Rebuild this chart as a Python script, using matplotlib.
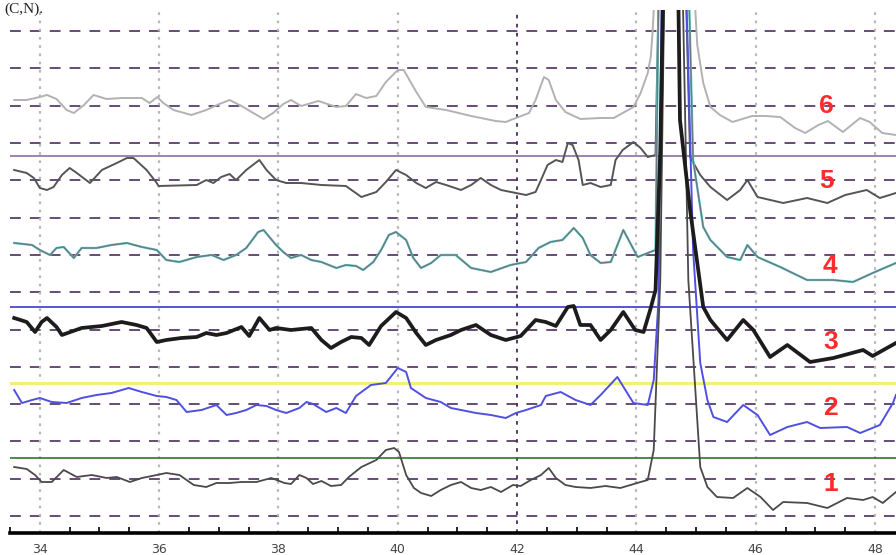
import matplotlib
matplotlib.use("Agg")
import matplotlib.pyplot as plt

# 2-theta (deg) and stacked intensity (a.u.), bottom trace = 1
x1 = [33.57, 33.78, 33.92, 34.03, 34.20, 34.40, 34.62, 34.87, 35.12, 35.29, 35.51, 35.71, 35.96, 36.12,
      36.34, 36.58, 36.79, 36.96, 37.18, 37.38, 37.63, 37.88, 38.10, 38.21, 38.35, 38.47, 38.58, 38.72,
      38.88, 39.05, 39.18, 39.39, 39.64, 39.80, 39.94, 40.02, 40.14, 40.27, 40.39, 40.56, 40.72, 40.89,
      41.06, 41.23, 41.39, 41.56, 41.73, 41.93, 42.06, 42.23, 42.40, 42.53, 42.65, 42.81, 42.98, 43.23,
      43.48, 43.73, 44.07, 44.19, 44.29, 44.40, 44.50, 44.73, 44.87, 45.07, 45.19, 45.35, 45.62, 45.86,
      46.08, 46.29, 46.46, 46.86, 47.20, 47.53, 47.80, 47.96, 48.13, 48.35]
y1 = [66, 64, 58, 51, 51, 63, 56, 58, 55, 56, 51, 55, 58, 60,
      58, 48, 46, 50, 50, 51, 51, 55, 50, 49, 58, 55, 49, 52,
      47, 48, 56, 66, 73, 83, 85, 81, 58, 45, 40, 37, 43, 48,
      51, 45, 43, 46, 41, 48, 47, 53, 58, 65, 55, 48, 46, 45,
      47, 45, 51, 53, 83, 253, 683, 683, 253, 66, 46, 36, 35, 45,
      36, 23, 31, 30, 25, 35, 33, 36, 30, 41]

x2 = [33.57, 33.70, 33.87, 34.00, 34.20, 34.45, 34.70, 34.95, 35.20, 35.49, 35.71, 35.96, 36.12, 36.29,
      36.46, 36.71, 36.96, 37.13, 37.29, 37.46, 37.63, 37.80, 37.96, 38.13, 38.35, 38.47, 38.58, 38.80,
      38.97, 39.13, 39.30, 39.55, 39.80, 40.00, 40.14, 40.22, 40.47, 40.72, 40.89, 41.06, 41.31, 41.56,
      41.81, 41.98, 42.15, 42.40, 42.48, 42.73, 42.98, 43.23, 43.40, 43.68, 43.95, 44.19, 44.29, 44.37,
      44.45, 44.77, 44.95, 45.07, 45.19, 45.29, 45.52, 45.79, 46.03, 46.24, 46.53, 46.86, 47.08, 47.53,
      47.75, 48.08, 48.30, 48.35]
y2 = [143, 130, 133, 135, 131, 130, 135, 138, 140, 145, 141, 137, 136, 133,
      121, 123, 128, 118, 120, 123, 128, 127, 123, 120, 125, 131, 129, 121,
      125, 120, 137, 148, 150, 165, 161, 145, 135, 131, 125, 123, 120, 118,
      115, 120, 123, 128, 137, 141, 133, 128, 138, 156, 130, 128, 153, 233,
      683, 683, 283, 170, 133, 116, 111, 128, 118, 98, 106, 111, 105, 106,
      100, 108, 130, 138]

x3 = [33.57, 33.78, 33.92, 34.03, 34.12, 34.28, 34.37, 34.70, 35.04, 35.37, 35.62, 35.79, 35.96, 36.12,
      36.37, 36.63, 36.79, 36.96, 37.13, 37.38, 37.51, 37.68, 37.85, 37.96, 38.21, 38.55, 38.72, 38.88,
      39.05, 39.22, 39.39, 39.52, 39.72, 39.97, 40.14, 40.31, 40.47, 40.64, 40.89, 41.06, 41.31, 41.56,
      41.81, 42.06, 42.31, 42.48, 42.65, 42.85, 42.95, 43.06, 43.23, 43.40, 43.57, 43.78, 43.98, 44.12,
      44.24, 44.32, 44.40, 44.49, 44.67, 44.73, 44.90, 45.12, 45.24, 45.52, 45.79, 45.96, 46.24, 46.53,
      46.91, 47.30, 47.80, 47.96, 48.35]
y3 = [215, 211, 201, 211, 215, 206, 198, 205, 207, 211, 208, 205, 191, 193,
      195, 196, 200, 198, 200, 206, 197, 215, 203, 205, 203, 205, 193, 185,
      191, 196, 195, 188, 207, 221, 215, 200, 188, 193, 198, 203, 208, 198,
      193, 197, 213, 211, 207, 226, 227, 208, 208, 193, 203, 221, 203, 201,
      225, 243, 383, 683, 683, 413, 323, 226, 213, 193, 213, 203, 176, 188,
      171, 175, 183, 177, 190]

x4 = [33.57, 33.87, 34.00, 34.17, 34.28, 34.40, 34.57, 34.70, 34.95, 35.20, 35.46, 35.71, 35.96, 36.12,
      36.34, 36.63, 36.88, 37.08, 37.29, 37.46, 37.66, 37.75, 37.96, 38.08, 38.21, 38.38, 38.55, 38.72,
      38.97, 39.13, 39.30, 39.42, 39.59, 39.72, 39.85, 39.97, 40.14, 40.26, 40.39, 40.56, 40.72, 40.97,
      41.23, 41.56, 41.89, 42.15, 42.36, 42.56, 42.76, 42.95, 43.10, 43.23, 43.40, 43.57, 43.78, 44.02,
      44.19, 44.32, 44.40, 44.82, 44.95, 45.12, 45.24, 45.52, 45.74, 45.86, 46.03, 46.41, 46.86, 47.30,
      47.63, 47.96, 48.35]
y4 = [290, 288, 283, 278, 285, 286, 275, 285, 285, 288, 290, 286, 283, 273,
      271, 276, 278, 273, 278, 285, 301, 303, 288, 281, 275, 278, 273, 271,
      265, 268, 267, 263, 271, 283, 298, 301, 293, 275, 265, 270, 278, 278,
      265, 261, 268, 271, 285, 291, 293, 305, 295, 278, 270, 271, 303, 276,
      280, 283, 683, 683, 373, 306, 293, 276, 273, 288, 276, 266, 253, 253,
      251, 260, 270]

x5 = [33.57, 33.78, 33.90, 34.00, 34.12, 34.23, 34.37, 34.50, 34.62, 34.84, 35.04, 35.29, 35.46, 35.57,
      35.79, 35.96, 35.99, 36.63, 36.79, 36.91, 37.04, 37.18, 37.29, 37.46, 37.68, 37.80, 37.96, 38.13,
      38.38, 38.72, 39.13, 39.39, 39.64, 39.80, 39.97, 40.14, 40.31, 40.47, 40.64, 40.81, 41.06, 41.23,
      41.39, 41.56, 41.73, 41.98, 42.15, 42.31, 42.40, 42.51, 42.65, 42.76, 42.85, 42.93, 43.03, 43.10,
      43.23, 43.40, 43.57, 43.65, 43.77, 43.95, 44.07, 44.19, 44.32, 44.42, 44.77, 44.90, 45.07, 45.24,
      45.52, 45.74, 45.86, 46.03, 46.46, 46.86, 47.20, 47.50, 47.86, 48.08, 48.35]
y5 = [363, 360, 355, 345, 343, 346, 358, 365, 360, 350, 363, 370, 375, 375,
      363, 350, 347, 348, 353, 350, 356, 359, 353, 363, 373, 363, 353, 350,
      350, 348, 347, 336, 341, 351, 363, 358, 350, 345, 351, 348, 343, 348,
      355, 348, 343, 340, 338, 341, 353, 368, 373, 371, 390, 388, 373, 348,
      350, 346, 348, 373, 383, 391, 385, 376, 378, 683, 683, 376, 358, 346,
      333, 343, 353, 336, 330, 335, 330, 338, 343, 335, 340]

x6 = [33.57, 33.78, 34.00, 34.12, 34.28, 34.45, 34.57, 34.74, 34.90, 35.12, 35.37, 35.71, 35.84, 35.97,
      36.07, 36.24, 36.54, 36.79, 37.01, 37.18, 37.38, 37.55, 37.75, 37.91, 38.08, 38.21, 38.38, 38.67,
      38.97, 39.13, 39.30, 39.47, 39.64, 39.80, 40.00, 40.10, 40.31, 40.47, 40.81, 41.23, 41.64, 41.81,
      41.98, 42.20, 42.31, 42.45, 42.53, 42.65, 42.81, 43.06, 43.40, 43.62, 43.95, 44.07, 44.19, 44.24,
      44.27, 44.29, 44.40, 44.82, 44.99, 45.02, 45.12, 45.24, 45.40, 45.61, 45.94, 46.16, 46.41, 46.66,
      46.83, 47.05, 47.21, 47.46, 47.75, 47.91, 48.12, 48.35]
y6 = [433, 433, 436, 438, 434, 423, 420, 428, 438, 434, 435, 435, 430, 436,
      430, 423, 418, 423, 429, 433, 427, 421, 414, 420, 429, 433, 427, 432,
      426, 427, 439, 435, 437, 451, 463, 463, 441, 426, 423, 417, 412, 411,
      415, 420, 433, 456, 453, 433, 421, 414, 415, 415, 426, 440, 460, 476,
      500, 523, 690, 690, 520, 488, 450, 426, 418, 411, 417, 417, 416, 405,
      400, 408, 412, 401, 415, 411, 400, 398]

trace_labels = ["1", "2", "3", "4", "5", "6"]
label_x = [47.25, 47.26, 47.25, 47.25, 47.18, 47.18]
label_y = [49, 125, 191, 267, 352, 427]

# reference lines drawn across the scan
ref_levels = [75, 150, 226, 377]
ref_colors = ["#2a7a2a", "#f2f07a", "#3838c8", "#8e6e9e"]
ref_widths = [1.2, 2.2, 1.2, 1.2]

fig = plt.figure(figsize=(8.96, 5.55), dpi=100)
ax = fig.add_axes([10 / 896, 22 / 555, 886 / 896, 523 / 555])

# dashed horizontal grid
for k in range(14):
    ax.axhline(17 + 37.3 * k, color="#5b3d6b", lw=1.3, ls=(0, (6, 5)), zorder=1)
# dotted vertical grid
for v in range(34, 49, 2):
    if v == 42:
        ax.axvline(v, color="#4a2c5a", lw=1.3, ls=(0, (2, 3)), zorder=1)
    else:
        ax.axvline(v, color="#b8b8b8", lw=1.6, ls=(0, (1.2, 2.5)), zorder=1)

for lvl, c, w in zip(ref_levels, ref_colors, ref_widths):
    ax.axhline(lvl, color=c, lw=w, zorder=2)

ax.plot(x6, y6, color="#b2b2b2", lw=1.4, zorder=3)
ax.plot(x5, y5, color="#555555", lw=1.4, zorder=3)
ax.plot(x4, y4, color="#66cdd6", lw=1.7, zorder=3)
ax.plot(x4, y4, color="#6a6a6a", lw=1.0, alpha=0.85, zorder=3)
ax.plot(x2, y2, color="#5050e0", lw=1.4, zorder=4)
ax.plot(x1, y1, color="#4a4a4a", lw=1.3, zorder=4)
ax.plot(x3, y3, color="#1c1c1c", lw=2.7, zorder=5)

for t, lx, ly in zip(trace_labels, label_x, label_y):
    ax.text(lx, ly, t, color="#ff2a2a", fontsize=19, fontweight="bold",
            ha="center", va="center", family="Liberation Sans", zorder=6)

ax.set_xlim(33.532, 48.351)
ax.set_ylim(0, 523)
ax.set_xticks(range(34, 49, 2))
ax.set_xticks([v / 2 for v in range(67, 97)], minor=True)
ax.set_yticks([])
ax.tick_params(axis="x", which="both", direction="in", color="black", width=1.2,
               labelsize=9, labelcolor="#444444", pad=7)
ax.tick_params(axis="x", which="major", length=0)
ax.tick_params(axis="x", which="minor", length=4)
for s in ["top", "left", "right"]:
    ax.spines[s].set_visible(False)
ax.spines["bottom"].set_linewidth(2.6)
ax.spines["bottom"].set_color("black")
ax.set_facecolor("white")

fig.text(4 / 896, 1 - 13 / 555, "(C,N).", fontsize=11, family="Liberation Serif",
         va="baseline", ha="left", color="#222222")

fig.savefig("out.png", dpi=100, facecolor="white")
